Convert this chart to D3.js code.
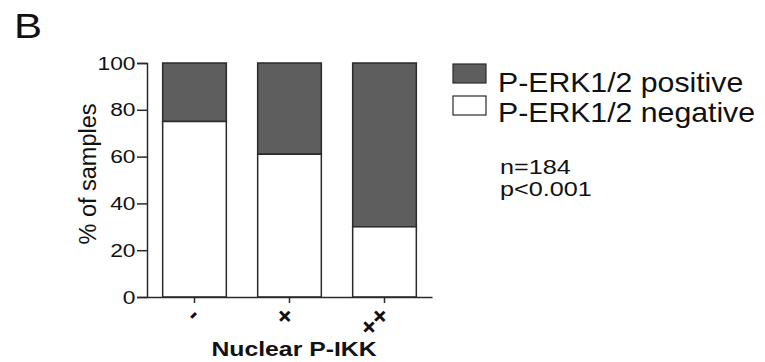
<!DOCTYPE html>
<html>
<head>
<meta charset="utf-8">
<script src="https://cdn.jsdelivr.net/npm/d3@7"></script>
<style>
  body { margin: 0; background: #fff; }
  svg text { font-family: "Liberation Sans", Arial, sans-serif; fill: #111; }
</style>
</head>
<body>
<script>
const categories = ['-', '+', '++'];
const negative = [75, 61, 30];
const positive = [25, 39, 70];
const yTicks = [0, 20, 40, 60, 80, 100];
const seriesNames = ['P-ERK1/2 positive', 'P-ERK1/2 negative'];
const seriesColors = ['#5e5e5e', '#ffffff'];
const notes = ['n=184', 'p<0.001'];

const width = 765, height = 362;
const stroke = '#2a2a2a';
const fontFamily = '"Liberation Sans", Arial, sans-serif';

const svg = d3.select('body').append('svg')
    .attr('width', width)
    .attr('height', height);

// the figure's lettering is a bit wider than Arial, so stretch it sideways
function addText(parent, x, y, str, size, sx, anchor, weight) {
    return parent.append('text')
        .attr('transform', `translate(${x},${y}) scale(${sx},1)`)
        .attr('text-anchor', anchor || 'start')
        .attr('font-size', size)
        .attr('font-weight', weight || 'normal')
        .text(str);
}

const x = d3.scaleBand()
    .domain(categories)
    .range([147, 432])
    .paddingInner(0.33)
    .paddingOuter(0.165);

const y = d3.scaleLinear()
    .domain([0, 100])
    .range([297, 63]);

// stacked bars: negative at bottom, positive on top
const rows = categories.map((c, i) => ({ cat: c, neg: negative[i], pos: positive[i] }));

const bars = svg.append('g');
bars.selectAll('.pos')
    .data(rows)
    .enter()
    .append('rect')
    .attr('class', 'pos')
    .attr('x', d => x(d.cat))
    .attr('width', x.bandwidth())
    .attr('y', d => y(d.neg + d.pos))
    .attr('height', d => y(d.neg) - y(d.neg + d.pos))
    .attr('fill', seriesColors[0])
    .attr('stroke', stroke)
    .attr('stroke-width', 1.5);

bars.selectAll('.neg')
    .data(rows)
    .enter()
    .append('rect')
    .attr('class', 'neg')
    .attr('x', d => x(d.cat))
    .attr('width', x.bandwidth())
    .attr('y', d => y(d.neg))
    .attr('height', d => y(0) - y(d.neg))
    .attr('fill', seriesColors[1])
    .attr('stroke', stroke)
    .attr('stroke-width', 1.5);

// y axis
const yAxis = svg.append('g')
    .attr('transform', 'translate(147,0)')
    .call(d3.axisLeft(y).tickValues(yTicks).tickSize(10));
yAxis.select('.domain').attr('stroke', stroke).attr('stroke-width', 1.5);
yAxis.selectAll('.tick line').attr('stroke', stroke).attr('stroke-width', 1.5);
yAxis.selectAll('.tick text')
    .attr('x', 0)
    .attr('transform', 'translate(-11.5,0) scale(1.2,1)')
    .attr('font-size', 19)
    .attr('fill', '#111')
    .style('font-family', fontFamily);

// x axis, labels turned 45 degrees
const xAxis = svg.append('g')
    .attr('transform', 'translate(0,297)')
    .call(d3.axisBottom(x).tickSize(6).tickSizeOuter(0));
xAxis.select('.domain').attr('stroke', stroke).attr('stroke-width', 1.5);
xAxis.selectAll('.tick line').attr('stroke', stroke).attr('stroke-width', 1.5);
xAxis.selectAll('.tick text')
    .attr('font-size', 26)
    .attr('font-weight', 'bold')
    .attr('fill', '#111')
    .attr('text-anchor', 'end')
    .attr('dy', null)
    .attr('y', 0)
    .attr('transform', 'translate(6.8,20) rotate(-45)')
    .style('font-family', fontFamily);

// axis titles
svg.append('text')
    .attr('transform', 'translate(96,174) rotate(-90)')
    .attr('text-anchor', 'middle')
    .attr('font-size', 23.5)
    .text('% of samples');

addText(svg, 294, 356, 'Nuclear P-IKK', 21, 1.18, 'middle', 'bold');

// panel letter
addText(svg, 14, 38, 'B', 35, 1.2);

// legend
const legend = svg.append('g');
seriesNames.forEach((name, i) => {
    legend.append('rect')
        .attr('x', 453)
        .attr('y', 64 + i * 32)
        .attr('width', 33)
        .attr('height', 19)
        .attr('fill', seriesColors[i])
        .attr('stroke', stroke)
        .attr('stroke-width', 1.2);
    addText(legend, 498, 92 + i * 30, name, 28, 1.08);
});

notes.forEach((t, i) => {
    addText(svg, 500, 174 + i * 22, t, 21, 1.2);
});
</script>
</body>
</html>
